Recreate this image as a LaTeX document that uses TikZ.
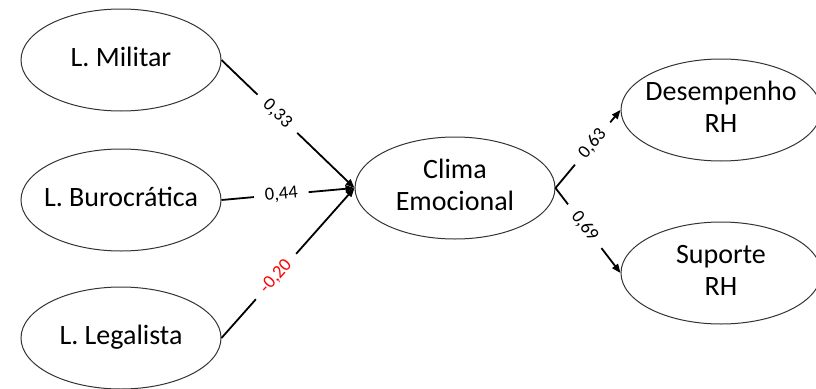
\documentclass[tikz,border=0pt]{standalone}
\usepackage{fontspec}
\setmainfont{Carlito}
\usetikzlibrary{shapes.geometric,arrows.meta}
\tikzset{
  latent/.style={draw=black!80, line width=1pt, ellipse, minimum width=200pt, minimum height=102pt, inner sep=0pt,
    font=\fontsize{28}{32}\selectfont},
  path/.style={line width=1.8pt, -{Triangle[length=9pt,width=7pt]}},
  coef/.style={fill=white, inner xsep=11pt, inner ysep=2pt, sloped, font=\fontsize{18.5}{19}\selectfont},
}
\newcommand{\ctext}[1]{\makebox[0pt]{\begin{tabular}{@{}c@{}}#1\end{tabular}}}
\begin{document}
\begin{tikzpicture}[x=1pt,y=-1pt]
\useasboundingbox (0,0) rectangle (816,388);
\node[latent] (mil) at (121,60) {\ctext{L. Militar}};
\node[latent] (bur) at (121,200) {\ctext{L. Burocrática}};
\node[latent] (leg) at (121,338) {\ctext{L. Legalista}};
\node[latent] (cli) at (455,188) {\ctext{Clima\\Emocional}};
\node[latent] (des) at (721,110) {\ctext{Desempenho\\RH}};
\node[latent] (sup) at (721,273) {\ctext{Suporte\\RH}};
\draw[path] (mil.east) -- node[coef, pos=0.42] {0,33} (cli.west);
\draw[path] (bur.east) -- node[coef, pos=0.45] {0,44} (cli.west);
\draw[path] (leg.east) -- node[coef, pos=0.41, text=red] {-0,20} (cli.west);
\draw[path] (cli.east) -- node[coef, pos=0.57] {0,63} (des.west);
\draw[path] (cli.east) -- node[coef, pos=0.45] {0,69} (sup.west);
\end{tikzpicture}
\end{document}
